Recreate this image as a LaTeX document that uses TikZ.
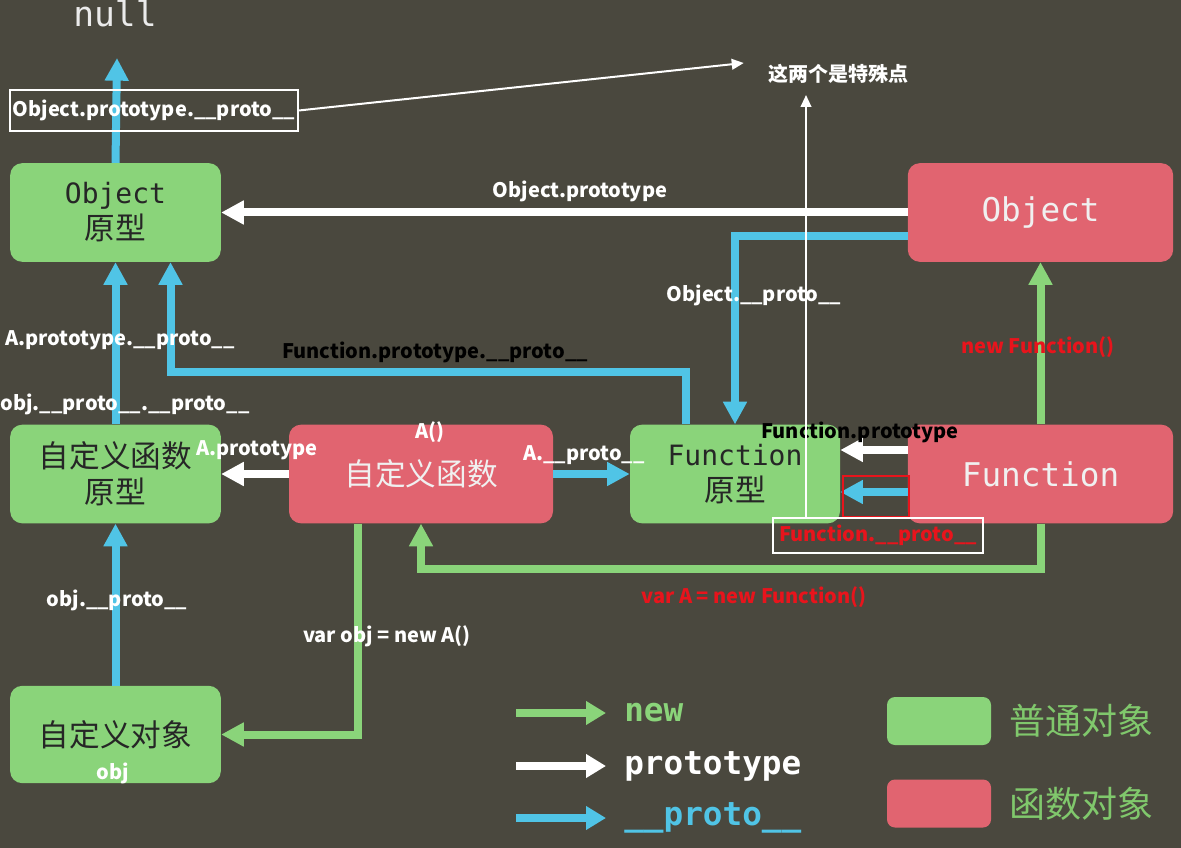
\documentclass[tikz,border=0pt]{standalone}
\usepackage{fontspec}
\setmainfont{Noto Sans CJK SC}
\setmonofont{DejaVu Sans Mono}
\usetikzlibrary{arrows.meta,calc}

\definecolor{bgc}{RGB}{74,72,62}
\definecolor{gbox}{RGB}{138,212,122}
\definecolor{rbox}{RGB}{225,100,112}
\definecolor{bline}{RGB}{80,196,230}
\definecolor{rtext}{RGB}{232,20,28}
\definecolor{gtext}{RGB}{128,200,108}

\newcommand{\mono}[1]{\ttfamily\fontsize{#1}{27}\selectfont}

\tikzset{
	box/.style={rounded corners=9pt, inner sep=0pt, minimum height=74pt, align=center,
		font=\fontsize{23}{27}\selectfont},
	gbx/.style={box, fill=gbox, minimum width=158pt, text=black!85},
	rbx/.style={box, fill=rbox, minimum width=199pt, text=white!94!black},
	bl/.style={draw=bline, line width=6pt, -{Triangle[length=17pt,width=17pt]}},
	wh/.style={draw=white, line width=6pt, -{Triangle[length=17pt,width=17pt]}},
	gr/.style={draw=gbox, line width=6pt, -{Triangle[length=17pt,width=17pt]}},
	tw/.style={draw=white, line width=1.5pt, -{Triangle[length=9pt,width=8pt]}},
	lbl/.style={inner sep=0pt, text=white, font=\bfseries\fontsize{15}{18}\selectfont}
}

\begin{document}
\begin{tikzpicture}[x=0.75pt,y=-0.75pt]

\useasboundingbox (0,0) rectangle (1181,848);
\fill[bgc] (0,0) rectangle (1181,848);

% boxes
\node[gbx] (objp) at (115.5,212.5) {{\mono{21}Object}\\原型};
\node[rbx] (obj) at (1040.5,212.5) {\mono{24.5}Object};
\node[gbx] (ap) at (115.5,474) {自定义函数\\原型};
\node[rbx, minimum width=198pt] (afn) at (421,474) {自定义函数};
\node[gbx, minimum width=157.5pt] (fp) at (735,474) {{\mono{21}Function}\\原型};
\node[rbx] (fn) at (1040.5,474) {\mono{24.5}Function};
\node[gbx, minimum height=73pt] (o) at (115.5,734.5) {自定义对象};

\node[anchor=base, text=white!92!black, font=\mono{26}] (nul) at (115,27) {null};
\coordinate (nulltip) at (117,58);

% __proto__
\draw[bl] (objp.north) -- (nulltip);
\draw[bl] (ap.north) -- (objp.south);
\draw[bl] (o.north) -- (ap.south);
\draw[bl] (afn.east) -- (fp.west);
\draw[bl] ($(obj.west)+(0,24)$) -| (fp.north);
\draw[bl] ($(fp.north)+(-49,0)$) -- ++(0,-52) -| ($(objp.south)+(55,0)$);
\draw[bl] ($(fn.west)+(0,18)$) -- ($(fp.east)+(0,18)$);

% prototype
\draw[wh] (obj.west) -- (objp.east);
\draw[wh] (afn.west) -- (ap.east);
\draw[wh] ($(fn.west)+(0,-24)$) -- ($(fp.east)+(0,-24)$);

% new
\draw[gr] (fn.north) -- (obj.south);
\draw[gr] (fn.south) -- ++(0,45) -| (afn.south);
\draw[gr] ($(afn.south)+(-63,0)$) |- (o.east);

\draw[rtext, line width=1.2pt] (843,476) rectangle (909,517);

% labels
\node[lbl, draw=white, line width=1.2pt, minimum width=216pt, minimum height=31pt] (lb1) at (154,110.5) {Object.prototype.\_\_proto\_\_};
\node[lbl] (spec) at (838,74) {这两个是特殊点};
\node[lbl] (l1) at (580,191) {Object.prototype};
\node[lbl] (l2) at (754,295) {Object.\_\_proto\_\_};
\node[lbl, text=black] (l3) at (435,352) {Function.prototype.\_\_proto\_\_};
\node[lbl, text=rtext] (l4) at (1038,347) {new Function()};
\node[lbl] (l5) at (120,340) {A.prototype.\_\_proto\_\_};
\node[lbl] (l6) at (125,404) {obj.\_\_proto\_\_.\_\_proto\_\_};
\node[lbl] (l7) at (430,432) {A()};
\node[lbl] (l8) at (257,450) {A.prototype};
\node[lbl] (l9) at (584,455) {A.\_\_proto\_\_};
\node[lbl, text=black] (l10) at (860,432) {Function.prototype};
\node[lbl, text=rtext, draw=white, line width=1.2pt, minimum width=157.5pt, minimum height=26pt] (lb2) at (878,535.5) {Function.\_\_proto\_\_};
\node[lbl, text=rtext] (l11) at (754,597) {var A = new Function()};
\node[lbl] (l12) at (387,636) {var obj = new A()};
\node[lbl] (l13) at (117,600) {obj.\_\_proto\_\_};
\node[lbl] (l14) at (113,773) {obj};

\coordinate (sp) at (806,95);
\draw[tw] (lb1.east) -- ($(spec.west)+(-24,-11)$);
\draw[tw] (sp |- lb2.north) -- (sp);

% legend
\foreach \y/\c/\t in {713/gbox/new, 766/white/prototype, 818/bline/\_\_proto\_\_}{
	\draw[line width=6pt, draw=\c, -{Triangle[length=15pt,width=17pt]}] (516,\y) -- (606,\y);
	\node[anchor=west, inner sep=0pt, text=\c, font=\mono{24.5}\bfseries] (key\y) at (624,\y) {\t};
}
\foreach \y/\c/\t in {721/gbox/普通对象, 803.5/rbox/函数对象}{
	\node[fill=\c, rounded corners=6pt, minimum width=78pt, minimum height=36pt] (sw\y) at (939,\y) {};
	\node[text=gtext, inner sep=0pt, font=\fontsize{27}{30}\selectfont] (kt\y) at (1081,\y) {\t};
}

\end{tikzpicture}
\end{document}
